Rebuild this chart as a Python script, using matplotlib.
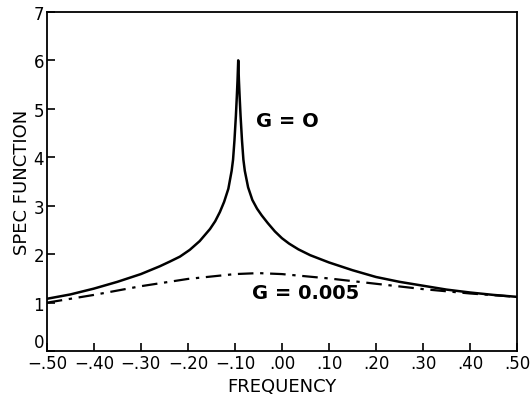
import matplotlib
matplotlib.use('Agg')
import matplotlib.pyplot as plt

# G = 0 curve (solid)
freq_g0 = [-0.50, -0.45, -0.40, -0.35, -0.30, -0.26, -0.238, -0.217, -0.196,
           -0.175, -0.153, -0.142, -0.132, -0.123, -0.114, -0.107, -0.104,
           -0.101, -0.098, -0.096, -0.0945, -0.093, -0.0915, -0.090, -0.088,
           -0.085, -0.082, -0.079, -0.072, -0.063, -0.053, -0.043, -0.030,
           -0.015, 0.000, 0.015, 0.035, 0.06, 0.10, 0.15, 0.20, 0.25, 0.30,
           0.35, 0.40, 0.45, 0.50]
spec_g0 = [1.08, 1.17, 1.29, 1.43, 1.59, 1.75, 1.85, 1.95, 2.09,
           2.27, 2.52, 2.68, 2.87, 3.08, 3.35, 3.72, 3.95,
           4.35, 4.85, 5.25, 5.58, 6.00, 5.58, 5.25, 4.85,
           4.35, 3.95, 3.72, 3.38, 3.12, 2.94, 2.80, 2.64,
           2.47, 2.33, 2.22, 2.10, 1.98, 1.83, 1.67, 1.53, 1.43, 1.35,
           1.27, 1.21, 1.16, 1.12]

# G = 0.005 curve (dash-dot)
freq_g5 = [-0.50, -0.40, -0.30, -0.20, -0.10, -0.05, 0.00, 0.10, 0.20, 0.30, 0.40, 0.50]
spec_g5 = [1.00, 1.16, 1.34, 1.49, 1.59, 1.61, 1.59, 1.50, 1.39, 1.28, 1.19, 1.12]

xticks = [-0.5, -0.4, -0.3, -0.2, -0.1, 0.0, 0.1, 0.2, 0.3, 0.4, 0.5]
xlabels = ['\u2212.50', '\u2212.40', '\u2212.30', '\u2212.20', '\u2212.10', '.00',
           '.10', '.20', '.30', '.40', '.50']
yticks = [0, 1, 2, 3, 4, 5, 6, 7]

plt.rcParams['font.family'] = ['DejaVu Sans']

fig = plt.figure(figsize=(5.32, 4.02), dpi=100)
ax = fig.add_axes([0.088, 0.124, 0.884, 0.844])

ax.plot(freq_g0, spec_g0, color='black', lw=1.8, solid_joinstyle='round')
ax.plot(freq_g5, spec_g5, color='black', lw=1.6, ls=(0, (7, 3, 1.5, 3)))

ax.set_xlim(-0.5, 0.5)
ax.set_ylim(0, 7)
ax.set_xticks(xticks)
ax.set_xticklabels(xlabels)
ax.set_yticks(yticks)
ax.tick_params(direction='in', length=6, width=1.2, labelsize=12, pad=2)
# lift the y "0" a little so it sits clear of the first x label
ax.get_yticklabels()[0].set_va('bottom')
for s in ax.spines.values():
    s.set_linewidth(1.3)

ax.text(0.011, 4.75, 'G = O', fontsize=14, fontweight='bold', ha='center', va='center')
ax.text(0.05, 1.22, 'G = 0.005', fontsize=14, fontweight='bold', ha='center', va='center')

ax.set_xlabel('FREQUENCY', fontsize=13, labelpad=4)
ax.set_ylabel('SPEC FUNCTION', fontsize=13, labelpad=2)

plt.savefig('out.png', dpi=100)
